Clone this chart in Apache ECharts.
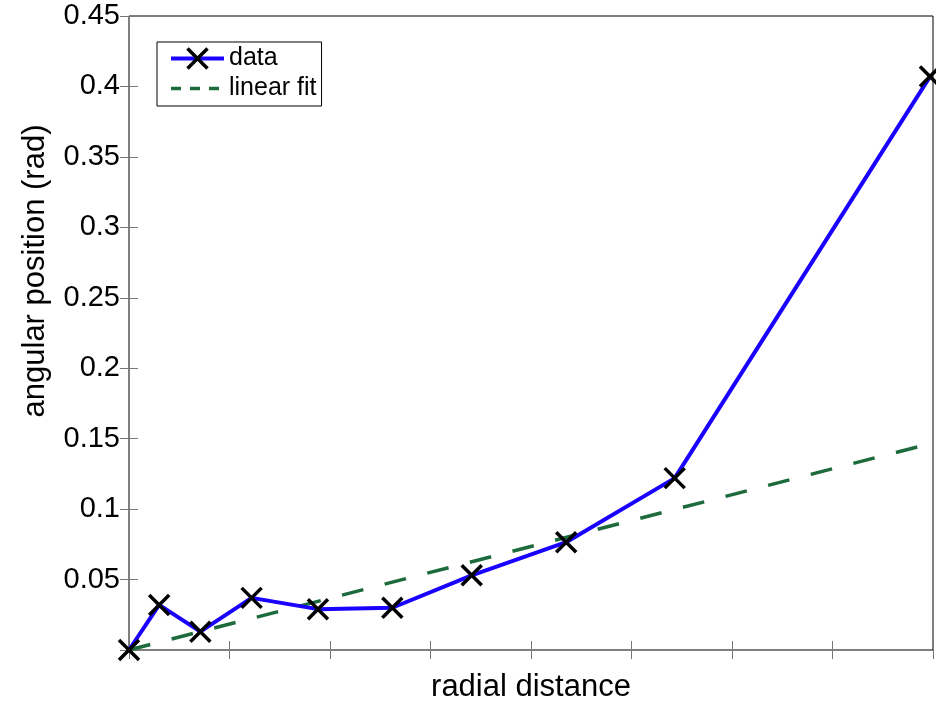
<!DOCTYPE html>
<html>
<head>
<meta charset="utf-8">
<script src="https://cdn.jsdelivr.net/npm/echarts@6/dist/echarts.min.js"></script>
<style>
  html, body { margin: 0; padding: 0; background: #fff; }
  #chart { width: 936px; height: 701px; }
</style>
</head>
<body>
<div id="chart"></div>
<script>
  // measured data (radial distance vs angular position)
  const dataX = [0, 0.30, 0.71, 1.22, 1.88, 2.62, 3.41, 4.35, 5.43, 7.97];
  const dataY = [0, 0.032, 0.013, 0.037, 0.029, 0.030, 0.053, 0.0765, 0.122, 0.407];
  // linear fit end points
  const fitX = [0, 8];
  const fitY = [0, 0.147];

  const xMin = 0, xMax = 8, xStep = 1;
  const yMin = 0, yMax = 0.45, yStep = 0.05;

  const font = 'Liberation Sans, Arial, sans-serif';
  const crossPath = 'path://M0,0L10,10M10,0L0,10';
  const blue = '#1a00ff';
  const green = '#1d6b3c';

  const chart = echarts.init(document.getElementById('chart'));

  const tickStyle = { show: true, inside: true, length: 9, lineStyle: { color: '#777', width: 1 } };

  const option = {
    animation: false,
    backgroundColor: '#fff',
    grid: {
      left: 129, right: 3, top: 16, bottom: 51,
      outerBoundsMode: 'none',
      containLabel: false,
      show: true, borderColor: '#000', borderWidth: 1
    },
    legend: {
      orient: 'vertical',
      left: 157, top: 42,
      padding: [4, 5, 5, 12],
      itemGap: 5,
      itemWidth: 53,
      itemHeight: 25,
      backgroundColor: '#fff',
      borderColor: '#000',
      borderWidth: 1,
      borderRadius: 0,
      textStyle: { fontFamily: font, fontSize: 25, color: '#000', lineHeight: 25 },
      data: [
        { name: 'data', lineStyle: { width: 4, color: blue },
          itemStyle: { color: 'rgba(0,0,0,0)', borderColor: '#000', borderWidth: 3.5 } },
        { name: 'linear fit', itemStyle: { color: 'rgba(0,0,0,0)', borderWidth: 0 },
          lineStyle: { width: 3.5, color: green, type: [10, 9] } }
      ]
    },
    xAxis: [{
      type: 'value', min: xMin, max: xMax, interval: xStep,
      name: 'radial distance', nameLocation: 'middle', nameGap: 22,
      nameTextStyle: { fontFamily: font, fontSize: 31, color: '#000' },
      axisLine: { show: false },
      axisTick: tickStyle,
      axisLabel: { show: false },
      splitLine: { show: false }
    }, {
      type: 'value', position: 'top', min: xMin, max: xMax, interval: xStep,
      axisLine: { show: false },
      axisTick: tickStyle,
      axisLabel: { show: false },
      splitLine: { show: false }
    }],
    yAxis: [{
      type: 'value', min: yMin, max: yMax, interval: yStep,
      name: 'angular position (rad)', nameLocation: 'middle', nameGap: 78, nameRotate: 90,
      nameTextStyle: { fontFamily: font, fontSize: 31, color: '#000', padding: [0, 0, 0, 124] },
      axisLine: { show: false },
      axisTick: tickStyle,
      axisLabel: {
        fontFamily: font, fontSize: 29, color: '#000', margin: 9,
        formatter: v => (v === 0 ? '' : String(+v.toFixed(2)))
      },
      splitLine: { show: false }
    }, {
      type: 'value', position: 'right', min: yMin, max: yMax, interval: yStep,
      axisLine: { show: false },
      axisTick: tickStyle,
      axisLabel: { show: false },
      splitLine: { show: false }
    }],
    series: [{
      name: 'data',
      type: 'line',
      data: dataX.map((x, i) => [x, dataY[i]]),
      symbol: crossPath,
      symbolSize: 20,
      showAllSymbol: true,
      z: 3,
      lineStyle: { color: blue, width: 4 },
      itemStyle: { color: 'rgba(0,0,0,0)', borderColor: '#000', borderWidth: 3.5 }
    }, {
      name: 'linear fit',
      type: 'line',
      data: fitX.map((x, i) => [x, fitY[i]]),
      symbol: 'circle',
      symbolSize: 0,
      showSymbol: false,
      z: 2,
      lineStyle: { color: green, width: 3.5, type: [22, 22] },
      itemStyle: { color: green }
    }]
  };

  chart.setOption(option);
</script>
</body>
</html>
